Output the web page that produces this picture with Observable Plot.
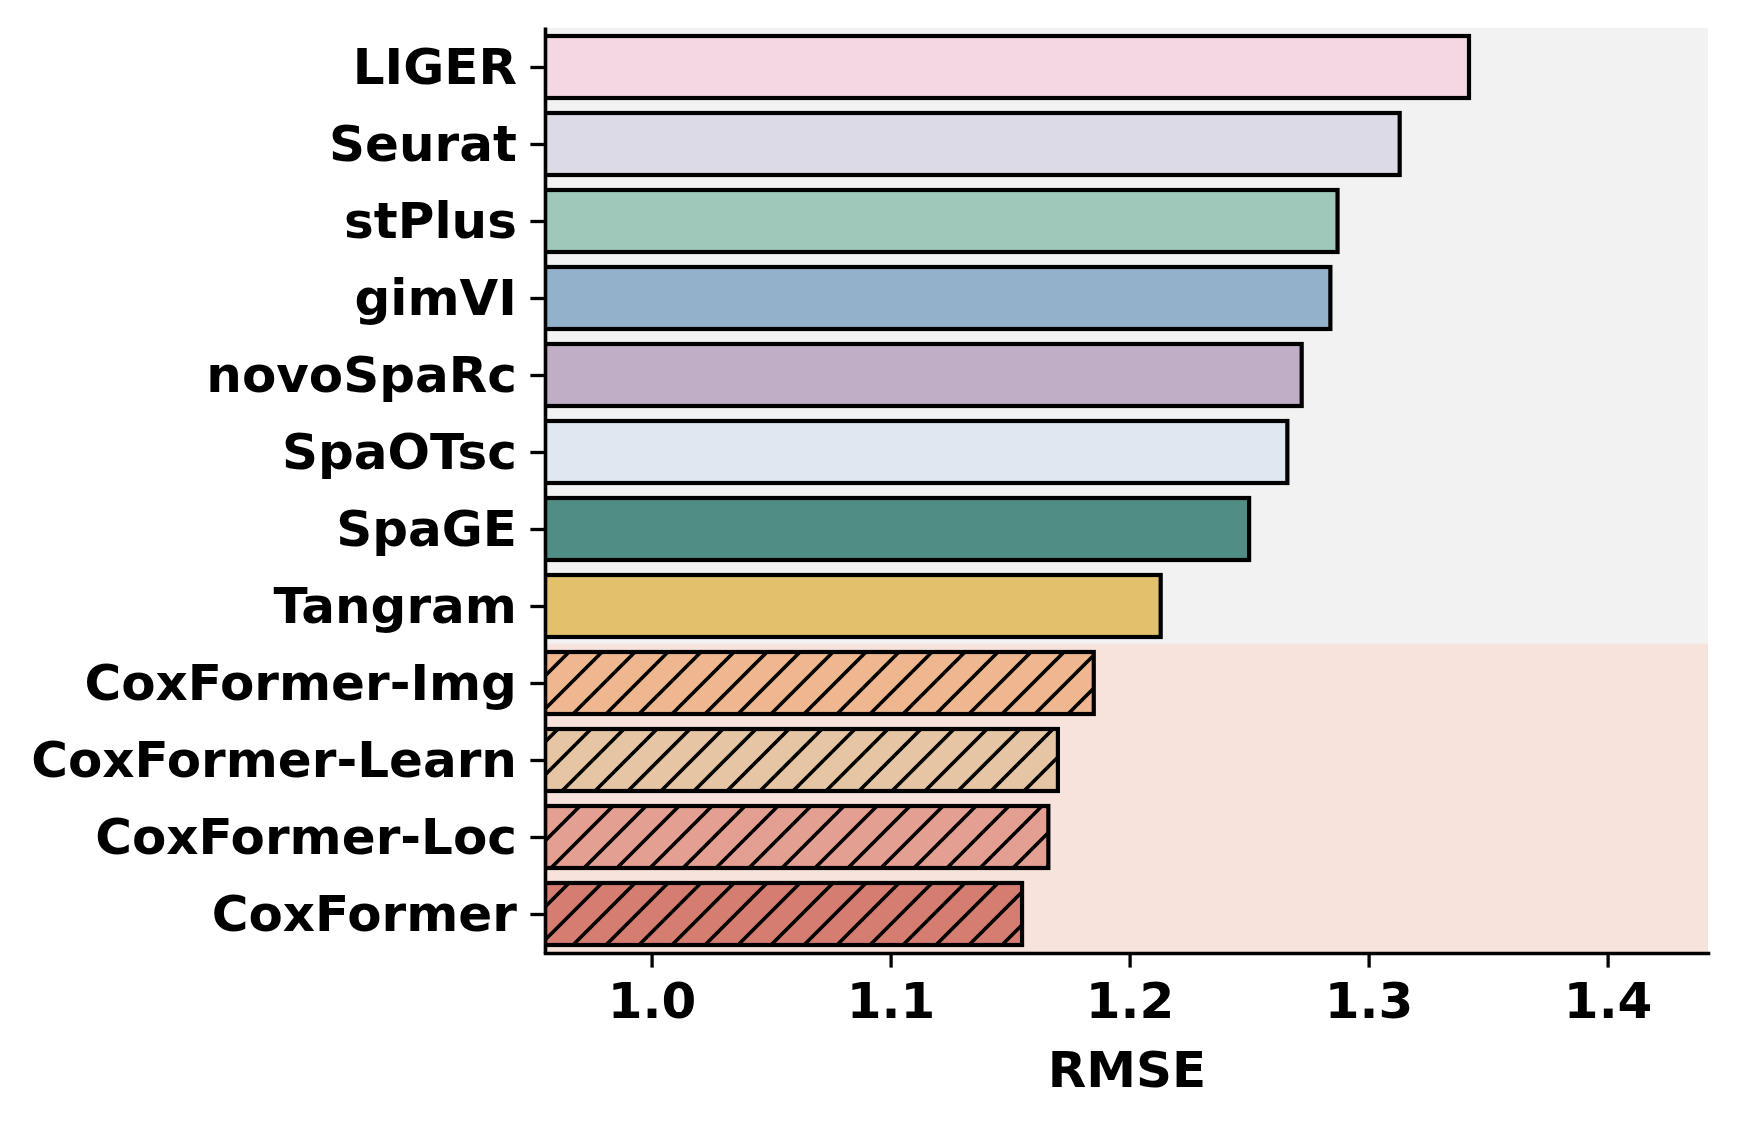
<!DOCTYPE html>
<html>
<head>
<meta charset="utf-8">
<script src="https://cdn.jsdelivr.net/npm/d3@7"></script>
<script src="https://cdn.jsdelivr.net/npm/@observablehq/plot@0.6"></script>
<style>
  html, body { margin: 0; padding: 0; background: #ffffff; }
  #chart { width: 1737px; height: 1125px; }
</style>
</head>
<body>
<div id="chart"></div>
<script>
// ---- data ----
const methods = ["LIGER", "Seurat", "stPlus", "gimVI", "novoSpaRc", "SpaOTsc", "SpaGE", "Tangram",
                 "CoxFormer-Img", "CoxFormer-Learn", "CoxFormer-Loc", "CoxFormer"];
const rmse = [1.342, 1.313, 1.287, 1.284, 1.272, 1.266, 1.250, 1.213, 1.185, 1.170, 1.166, 1.155];
const barColors = ["#f4d7e3", "#dcdae7", "#9fc8ba", "#93b1ca", "#bfaec6", "#dfe8f1", "#4f8d85", "#e2c06c",
                   "#eeb78f", "#e5c5a3", "#e39f92", "#d57d71"];
const group = ["baseline", "baseline", "baseline", "baseline", "baseline", "baseline", "baseline", "baseline",
               "ours", "ours", "ours", "ours"];
const groupNames = ["baseline", "ours"];
const groupBg = ["#f1f2f1", "#f7e3dc"];
const xTicks = [1.0, 1.1, 1.2, 1.3, 1.4];
const xDomain = [0.9554, 1.442];
const xLabel = "RMSE";

// ---- table built from arrays ----
const rows = methods.map((m, i) => ({
  method: m, value: rmse[i], color: barColors[i], group: group[i],
  bg: groupBg[groupNames.indexOf(group[i])], hatched: group[i] === "ours"
}));

const W = 1737, H = 1125;
const mL = 545, mR = 29, mT = 27.5, mB = 172;
const step = (H - mT - mB) / methods.length;
const bgInset = -(0.1 * step) - 0.6;

const font = "'DejaVu Sans', 'Liberation Sans', sans-serif";

const svg = Plot.plot({
  width: W, height: H,
  marginLeft: mL, marginRight: mR, marginTop: mT, marginBottom: mB,
  style: { fontFamily: font, fontSize: "50px", fontWeight: "bold", color: "black", background: "white", overflow: "visible" },
  x: { domain: xDomain, label: null },
  y: { domain: methods, paddingInner: 0.2, paddingOuter: 0.1, label: null },
  marks: [
    // group background bands
    Plot.barX(rows, { y: "method", x1: () => xDomain[0], x2: () => xDomain[1], fill: "bg",
                      insetTop: bgInset, insetBottom: bgInset }),
    // bar fills
    Plot.barX(rows, { y: "method", x1: () => 0, x2: "value", fill: "color", clip: true }),
    // hatching overlay
    Plot.barX(rows.filter(d => d.hatched), { y: "method", x1: () => 0, x2: "value", fill: "url(#hatch)", clip: true }),
    // bar outlines
    Plot.barX(rows, { y: "method", x1: () => 0, x2: "value", fill: "none", stroke: "black",
                      strokeWidth: 4.2, strokeLinejoin: "miter", clip: true }),
    // spines
    Plot.ruleX([xDomain[0]], { stroke: "black", strokeWidth: 3.6 }),
    Plot.frame({ anchor: "bottom", stroke: "black", strokeWidth: 3.6 }),
    // axes
    Plot.axisX(xTicks, { tickFormat: d3.format(".1f"), tickSize: 14.6, tickPadding: 14, strokeWidth: 3.3,
                         label: xLabel, labelAnchor: "center", labelOffset: 133, labelArrow: "none",
                         fontSize: 50, fontWeight: "bold" }),
    Plot.axisY({ tickSize: 14.6, tickPadding: 14, strokeWidth: 3.3, label: null, fontSize: 50, fontWeight: "bold" })
  ]
});

// hatch pattern definition (matplotlib "//")
const ns = "http://www.w3.org/2000/svg";
const defs = document.createElementNS(ns, "defs");
const pat = document.createElementNS(ns, "pattern");
const P = 33;
pat.setAttribute("id", "hatch");
pat.setAttribute("patternUnits", "userSpaceOnUse");
pat.setAttribute("width", P);
pat.setAttribute("height", P);
const path = document.createElementNS(ns, "path");
path.setAttribute("d", `M${-P/2},${P/2} L${P/2},${-P/2} M0,${P} L${P},0 M${P/2},${1.5*P} L${1.5*P},${P/2}`);
path.setAttribute("stroke", "black");
path.setAttribute("stroke-width", "3.6");
path.setAttribute("fill", "none");
pat.appendChild(path);
defs.appendChild(pat);
svg.insertBefore(defs, svg.firstChild);

document.getElementById("chart").appendChild(svg);
</script>
</body>
</html>
